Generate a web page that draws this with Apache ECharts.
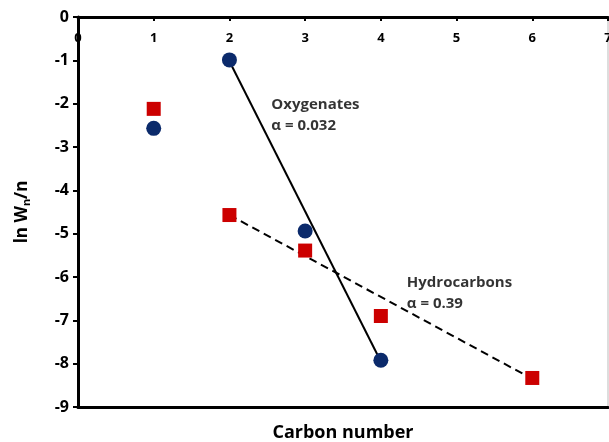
<!DOCTYPE html>
<html><head><meta charset="utf-8">
<script src="https://cdn.jsdelivr.net/npm/echarts@6/dist/echarts.min.js"></script>
<style>html,body{margin:0;padding:0;background:#fff}#c{width:609px;height:442px}</style>
</head><body><div id="c"></div>
<script>
const xTicks = [0,1,2,3,4,5,6,7];
const yTicks = [0,-1,-2,-3,-4,-5,-6,-7,-8,-9];
const oxyX = [1,2,3,4];
const oxyY = [-2.57,-0.99,-4.94,-7.92];
const hcX = [1,2,3,4,6];
const hcY = [-2.12,-4.57,-5.39,-6.90,-8.33];
const oxyFitX = [2,4];
const oxyFitY = [-1.02,-7.95];
const hcFitX = [2,6];
const hcFitY = [-4.57,-8.35];
const notes = [
  {x:2.56, y:-1.8, text:'Oxygenates\nα = 0.032'},
  {x:4.35, y:-5.9, text:'Hydrocarbons\nα = 0.39'}
];
const zip = (a,b)=>a.map((v,i)=>[v,b[i]]);
const F = '"Open Sans", "DejaVu Sans", sans-serif';
const noteLabel = {show:true,position:[0,0],align:'left',verticalAlign:'top',color:'#000',
  fontWeight:'bold',fontSize:15,lineHeight:21,fontFamily:F};
const chart = echarts.init(document.getElementById('c'));
chart.setOption({
  animation:false,
  backgroundColor:'#fff',
  grid:{left:78,right:1,top:17,bottom:35,show:true,borderColor:'#bbb',borderWidth:1,
    containLabel:false,outerBoundsMode:'none'},
  xAxis:[{
    type:'value',position:'top',min:0,max:7,interval:1,
    axisLine:{show:true,onZero:false,lineStyle:{color:'#000',width:3}},
    axisTick:{show:true,inside:true,length:4,lineStyle:{color:'#000',width:2}},
    axisLabel:{inside:true,margin:15,color:'#000',fontWeight:'bold',fontSize:13,fontFamily:F,
      formatter:v=>xTicks.includes(v)?String(v):''},
    splitLine:{show:false}
  },{
    type:'value',position:'bottom',min:0,max:7,interval:1,
    name:'Carbon number',nameLocation:'middle',nameGap:17,
    nameTextStyle:{color:'#000',fontWeight:'bold',fontSize:18,fontFamily:F},
    axisLine:{show:true,onZero:false,lineStyle:{color:'#000',width:3}},
    axisTick:{show:false},axisLabel:{show:false},splitLine:{show:false}
  }],
  yAxis:{
    type:'value',min:-9,max:0,interval:1,
    name:'ln W{sub|n}/n',nameLocation:'middle',nameGap:46,nameRotate:90,
    nameTextStyle:{color:'#000',fontWeight:'bold',fontSize:17,fontFamily:F,
      rich:{sub:{fontSize:11,fontWeight:'bold',verticalAlign:'bottom',padding:[8,0,0,0],fontFamily:F}}},
    axisLine:{show:true,onZero:false,lineStyle:{color:'#000',width:3}},
    axisTick:{show:true,length:5,lineStyle:{color:'#000',width:2}},
    axisLabel:{margin:9,color:'#000',fontWeight:'bold',fontSize:16,fontFamily:F,
      formatter:v=>yTicks.includes(v)?String(v):''},
    splitLine:{show:false}
  },
  series:[
    {type:'line',data:zip(oxyFitX,oxyFitY),symbol:'none',lineStyle:{color:'#000',width:2},z:2},
    {type:'line',data:zip(hcFitX,hcFitY),symbol:'none',lineStyle:{color:'#000',width:2,type:[8,5]},z:2},
    {type:'scatter',data:zip(hcX,hcY),symbol:'rect',symbolSize:14,itemStyle:{color:'#cc0000',opacity:1},z:3},
    {type:'scatter',data:zip(oxyX,oxyY),symbol:'circle',symbolSize:15,itemStyle:{color:'#0b2a6b',opacity:1},z:4},
    {type:'scatter',symbol:'circle',symbolSize:1,silent:true,itemStyle:{color:'rgba(0,0,0,0)'},
      data:notes.map(n=>({value:[n.x,n.y],label:Object.assign({},noteLabel,{formatter:n.text})})),
      label:noteLabel,z:5}
  ]
});
</script></body></html>
